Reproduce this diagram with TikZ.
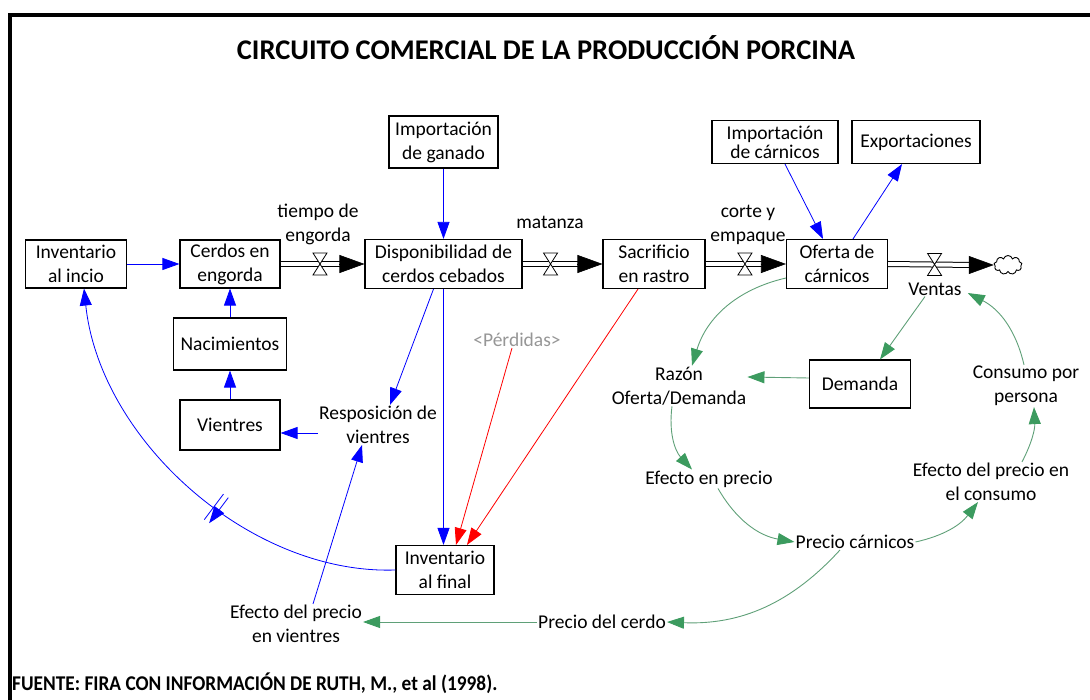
\documentclass[tikz,border=0pt]{standalone}
\usepackage{fontspec}
\setmainfont{Carlito}
\usetikzlibrary{arrows.meta,shapes.symbols}
\definecolor{linkblue}{RGB}{0,0,255}
\definecolor{linkred}{RGB}{255,0,0}
\definecolor{linkgreen}{RGB}{60,155,95}
\definecolor{greenline}{RGB}{95,160,120}
\definecolor{lostgray}{RGB}{150,150,150}
\newcommand\bodyfont{\fontsize{19.5}{24}\selectfont}
\newcommand\headfont{\fontsize{28.5}{32}\selectfont\bfseries}
\newcommand\footfont{\fontsize{21}{24}\selectfont\bfseries}
\tikzset{
  box/.style={draw, line width=1.1pt, align=center, inner sep=0pt, font=\bodyfont},
  lbl/.style={align=center, inner sep=1pt, font=\bodyfont},
  pipe/.style={double, double distance=4pt, line width=1pt},
  flowtip/.style={-{Triangle[length=25pt,width=18pt]}, line width=0.6pt},
  bluelink/.style={linkblue, line width=0.8pt, -{Triangle[length=17pt,width=12pt]}},
  redlink/.style={linkred, line width=0.8pt, -{Triangle[length=17pt,width=12pt]}},
  greenlink/.style={greenline, line width=0.9pt, -{Triangle[length=17pt,width=12pt,color=linkgreen]}},
  valve/.pic={\draw[fill=white, line width=0.8pt] (-7,-11) -- (7,-11) -- (-7,11) -- (7,11) -- cycle;},
  delay/.pic={\draw[linkblue, line width=0.8pt] (-3,-16) -- (-3,16) (3,-16) -- (3,16);}
}
\begin{document}
\begin{tikzpicture}[x=1pt,y=-1pt]
  \useasboundingbox (0,0) rectangle (1090,700);
  % frame and titles
  \draw[line width=4pt] (1100,15) -- (10,15) -- (10,710);
  \node[font=\headfont] (titulo) at (546,48) {CIRCUITO COMERCIAL DE LA PRODUCCIÓN PORCINA};
  \node[font=\footfont, anchor=west, inner sep=0pt] (fuente) at (12,683) {\scalebox{0.92}[1]{FUENTE: FIRA CON INFORMACIÓN DE RUTH, M., et al (1998).}};

  % stocks and boxes
  \node[box, minimum width=101pt, minimum height=48pt] (inicio) at (76,264) {Inventario\\al incio};
  \node[box, minimum width=100pt, minimum height=48pt] (engorda) at (230,264) {Cerdos en\\engorda};
  \node[box, minimum width=113pt, minimum height=52pt] (nacim) at (230,344) {Nacimientos};
  \node[box, minimum width=100pt, minimum height=50pt] (vientres) at (230,425) {Vientres};
  \node[box, minimum width=157pt, minimum height=49pt] (dispon) at (443.5,264) {Disponibilidad de\\cerdos cebados};
  \node[box, minimum width=109pt, minimum height=52pt] (impganado) at (443.5,142) {Importación\\de ganado};
  \node[box, minimum width=102pt, minimum height=49pt] (rastro) at (654,264) {Sacrificio\\en rastro};
  \node[box, minimum width=101pt, minimum height=49pt] (oferta) at (837,264) {Oferta de\\cárnicos};
  \node[box, minimum width=126pt, minimum height=43pt, font=\fontsize{19.5}{19}\selectfont] (impcarn) at (775,142) {Importación\\de cárnicos};
  \node[box, minimum width=128pt, minimum height=43pt] (export) at (916,142) {Exportaciones};
  \node[box, minimum width=101pt, minimum height=48pt] (demanda) at (860,384) {Demanda};
  \node[box, minimum width=98pt, minimum height=49pt] (invfinal) at (445,570) {Inventario\\al final};
  \node[cloud, draw, cloud puffs=9, minimum width=28pt, minimum height=19pt, inner sep=0pt, line width=0.9pt] (nube) at (1008,265) {};

  % auxiliaries
  \node[lbl] (tiempo) at (318,224) {tiempo de\\engorda};
  \node[lbl] (matanza) at (550,222) {matanza};
  \node[lbl] (corte) at (748,225) {corte y\\empaque};
  \node[lbl] (ventas) at (935,289) {Ventas};
  \node[lbl, text=lostgray] (perdidas) at (517,340) {<Pérdidas>};
  \node[lbl] (reposic) at (378,425) {Resposición de\\vientres};
  \node[lbl] (razon) at (679,386) {Razón\\Oferta/Demanda};
  \node[lbl] (efprecio) at (709,479) {Efecto en precio};
  \node[lbl] (consumo) at (1026,386) {Consumo por\\persona};
  \node[lbl] (efconsumo) at (991,482) {Efecto del precio en\\el consumo};
  \node[lbl] (preciocarn) at (855,542) {Precio cárnicos};
  \node[lbl] (preciocerdo) at (602,622) {Precio del cerdo};
  \node[lbl] (efvientres) at (296,624) {Efecto del precio\\en vientres};

  % flows
  \draw[pipe] (engorda.east) -- ([xshift=-20pt]dispon.west);
  \draw[flowtip] ([xshift=-25pt]dispon.west) -- (dispon.west);
  \path (engorda.east) -- (dispon.west) pic[pos=.47]{valve};
  \draw[pipe] (dispon.east) -- ([xshift=-20pt]rastro.west);
  \draw[flowtip] ([xshift=-25pt]rastro.west) -- (rastro.west);
  \path (dispon.east) -- (rastro.west) pic[pos=.35]{valve};
  \draw[pipe] (rastro.east) -- ([xshift=-20pt]oferta.west);
  \draw[flowtip] ([xshift=-25pt]oferta.west) -- (oferta.west);
  \path (rastro.east) -- (oferta.west) pic[pos=.49]{valve};
  \draw[pipe] (oferta.east) -- ([xshift=-20pt]nube.west);
  \draw[flowtip] ([xshift=-25pt]nube.west) -- (nube.west);
  \path (oferta.east) -- (nube.west) pic[pos=.44]{valve};

  % blue links
  \draw[bluelink] (inicio.east) -- (engorda.west);
  \draw[bluelink] (nacim.north) -- (engorda.south);
  \draw[bluelink] (vientres.north) -- (nacim.south);
  \draw[bluelink] (impganado.south) -- (dispon.north);
  \draw[bluelink] (dispon.south) -- (dispon.south |- invfinal.north);
  \draw[bluelink] ([xshift=-10pt]dispon.south) -- ([xshift=12pt]reposic.north);
  \draw[bluelink] ([yshift=-8pt]reposic.west) -- ([yshift=-8pt]vientres.east);
  \draw[bluelink] ([xshift=17pt]efvientres.north) -- ([xshift=-16pt]reposic.south);
  \draw[bluelink] (invfinal.west) .. controls (250,575) and (100,440) .. ([xshift=8pt]inicio.south) pic[pos=.43, sloped]{delay};
  \draw[bluelink] ([xshift=10pt]impcarn.south) -- ([xshift=-14pt]oferta.north);
  \draw[bluelink] ([xshift=16pt]oferta.north) -- ([xshift=-14pt]export.south);

  % red links
  \draw[redlink] ([xshift=-5pt]perdidas.south) -- ([xshift=11pt]invfinal.north);
  \draw[redlink] ([xshift=-16pt]rastro.south) -- ([xshift=22pt]invfinal.north);

  % green loop
  \draw[greenlink] ([yshift=-14pt]oferta.west) to[bend right=30] ([xshift=13pt]razon.north);
  \draw[greenlink] ([xshift=-10pt]ventas.south) -- ([xshift=20pt]demanda.north);
  \draw[greenlink] ([yshift=6pt]demanda.west) -- ([yshift=9pt]razon.east);
  \draw[greenlink] ([xshift=-7pt]razon.south) to[bend right=25] ([xshift=-17pt]efprecio.north);
  \draw[greenlink] ([xshift=9pt]efprecio.south) to[bend right=25] (preciocarn.west);
  \draw[greenlink] (preciocarn.east) to[bend right=20] ([xshift=-13pt]efconsumo.south);
  \draw[greenlink] ([xshift=31pt]efconsumo.north) to[bend right=15] ([xshift=8pt]consumo.south);
  \draw[greenlink] ([xshift=-2pt]consumo.north) to[bend right=25] ([xshift=5pt,yshift=-4pt]ventas.east);
  \draw[greenlink] ([xshift=-15pt]preciocarn.south) to[bend left=25] (preciocerdo.east);
  \draw[greenlink] (preciocerdo.west) -- (efvientres.east |- preciocerdo.west);
\end{tikzpicture}
\end{document}
